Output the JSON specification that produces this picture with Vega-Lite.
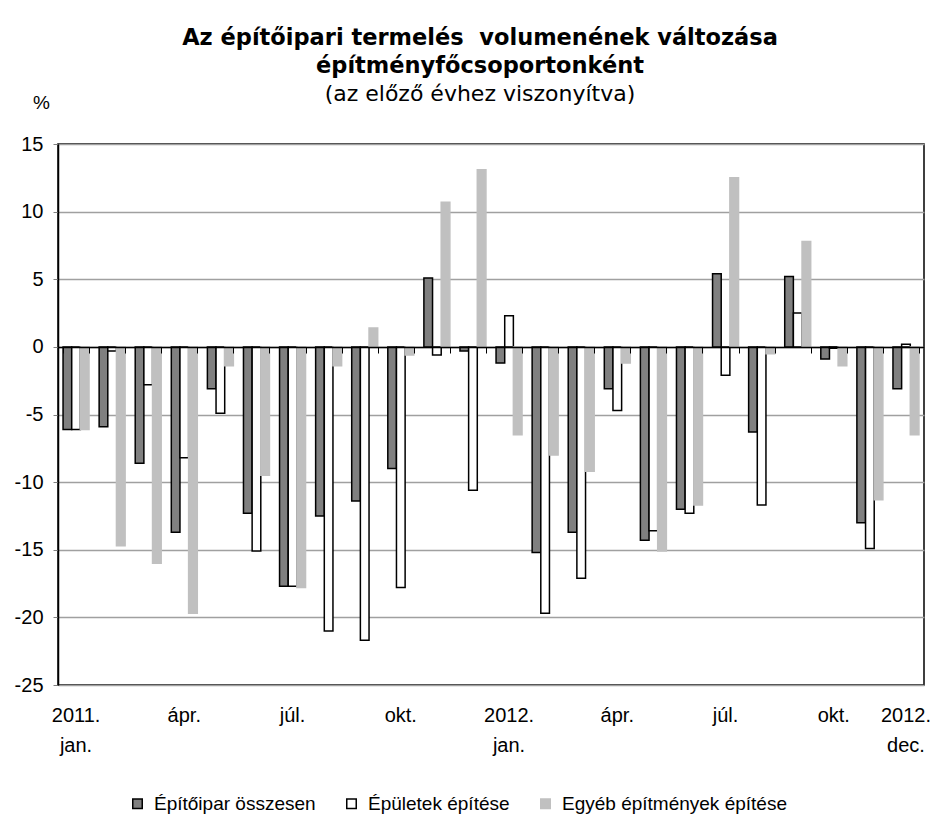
{
  "$schema": "https://vega.github.io/schema/vega-lite/v6.json",
  "width": 866,
  "height": 541,
  "autosize": "none",
  "padding": {"left": 58, "top": 144, "right": 10, "bottom": 136},
  "config": {
    "font": "Liberation Sans",
    "view": {"stroke": "#000000", "strokeWidth": 1.5},
    "axis": {"labelFont": "Liberation Sans", "titleFont": "Liberation Sans", "labelColor": "#000000", "titleColor": "#000000"},
    "legend": {"labelFont": "Liberation Sans"}
  },
  "title": {
    "text": ["Az építőipari termelés\u00a0 volumenének változása", "építményfőcsoportonként"],
    "subtitle": "(az előző évhez viszonyítva)",
    "font": "DejaVu Sans",
    "fontSize": 22.5,
    "fontWeight": "bold",
    "color": "#000000",
    "lineHeight": 28,
    "subtitleFont": "DejaVu Sans",
    "subtitleFontSize": 22,
    "subtitleColor": "#000000",
    "subtitlePadding": 7,
    "anchor": "middle",
    "dx": -11,
    "offset": -12
  },
  "data": {
    "values": [
      {"m": "2011-01", "s": "Építőipar összesen", "v": -6.1}, {"m": "2011-01", "s": "Épületek építése", "v": -6.1}, {"m": "2011-01", "s": "Egyéb építmények építése", "v": -6.1},
      {"m": "2011-02", "s": "Építőipar összesen", "v": -5.9}, {"m": "2011-02", "s": "Épületek építése", "v": -0.3}, {"m": "2011-02", "s": "Egyéb építmények építése", "v": -14.7},
      {"m": "2011-03", "s": "Építőipar összesen", "v": -8.6}, {"m": "2011-03", "s": "Épületek építése", "v": -2.8}, {"m": "2011-03", "s": "Egyéb építmények építése", "v": -16.0},
      {"m": "2011-04", "s": "Építőipar összesen", "v": -13.7}, {"m": "2011-04", "s": "Épületek építése", "v": -8.2}, {"m": "2011-04", "s": "Egyéb építmények építése", "v": -19.7},
      {"m": "2011-05", "s": "Építőipar összesen", "v": -3.1}, {"m": "2011-05", "s": "Épületek építése", "v": -4.9}, {"m": "2011-05", "s": "Egyéb építmények építése", "v": -1.4},
      {"m": "2011-06", "s": "Építőipar összesen", "v": -12.3}, {"m": "2011-06", "s": "Épületek építése", "v": -15.1}, {"m": "2011-06", "s": "Egyéb építmények építése", "v": -9.5},
      {"m": "2011-07", "s": "Építőipar összesen", "v": -17.7}, {"m": "2011-07", "s": "Épületek építése", "v": -17.7}, {"m": "2011-07", "s": "Egyéb építmények építése", "v": -17.8},
      {"m": "2011-08", "s": "Építőipar összesen", "v": -12.5}, {"m": "2011-08", "s": "Épületek építése", "v": -21.0}, {"m": "2011-08", "s": "Egyéb építmények építése", "v": -1.4},
      {"m": "2011-09", "s": "Építőipar összesen", "v": -11.4}, {"m": "2011-09", "s": "Épületek építése", "v": -21.7}, {"m": "2011-09", "s": "Egyéb építmények építése", "v": 1.4},
      {"m": "2011-10", "s": "Építőipar összesen", "v": -9.0}, {"m": "2011-10", "s": "Épületek építése", "v": -17.8}, {"m": "2011-10", "s": "Egyéb építmények építése", "v": -0.6},
      {"m": "2011-11", "s": "Építőipar összesen", "v": 5.1}, {"m": "2011-11", "s": "Épületek építése", "v": -0.6}, {"m": "2011-11", "s": "Egyéb építmények építése", "v": 10.7},
      {"m": "2011-12", "s": "Építőipar összesen", "v": -0.3}, {"m": "2011-12", "s": "Épületek építése", "v": -10.6}, {"m": "2011-12", "s": "Egyéb építmények építése", "v": 13.1},
      {"m": "2012-01", "s": "Építőipar összesen", "v": -1.2}, {"m": "2012-01", "s": "Épületek építése", "v": 2.3}, {"m": "2012-01", "s": "Egyéb építmények építése", "v": -6.5},
      {"m": "2012-02", "s": "Építőipar összesen", "v": -15.2}, {"m": "2012-02", "s": "Épületek építése", "v": -19.7}, {"m": "2012-02", "s": "Egyéb építmények építése", "v": -8.0},
      {"m": "2012-03", "s": "Építőipar összesen", "v": -13.7}, {"m": "2012-03", "s": "Épületek építése", "v": -17.1}, {"m": "2012-03", "s": "Egyéb építmények építése", "v": -9.2},
      {"m": "2012-04", "s": "Építőipar összesen", "v": -3.1}, {"m": "2012-04", "s": "Épületek építése", "v": -4.7}, {"m": "2012-04", "s": "Egyéb építmények építése", "v": -1.2},
      {"m": "2012-05", "s": "Építőipar összesen", "v": -14.3}, {"m": "2012-05", "s": "Épületek építése", "v": -13.6}, {"m": "2012-05", "s": "Egyéb építmények építése", "v": -15.1},
      {"m": "2012-06", "s": "Építőipar összesen", "v": -12.0}, {"m": "2012-06", "s": "Épületek építése", "v": -12.3}, {"m": "2012-06", "s": "Egyéb építmények építése", "v": -11.7},
      {"m": "2012-07", "s": "Építőipar összesen", "v": 5.4}, {"m": "2012-07", "s": "Épületek építése", "v": -2.1}, {"m": "2012-07", "s": "Egyéb építmények építése", "v": 12.5},
      {"m": "2012-08", "s": "Építőipar összesen", "v": -6.3}, {"m": "2012-08", "s": "Épületek építése", "v": -11.7}, {"m": "2012-08", "s": "Egyéb építmények építése", "v": -0.5},
      {"m": "2012-09", "s": "Építőipar összesen", "v": 5.2}, {"m": "2012-09", "s": "Épületek építése", "v": 2.5}, {"m": "2012-09", "s": "Egyéb építmények építése", "v": 7.8},
      {"m": "2012-10", "s": "Építőipar összesen", "v": -0.9}, {"m": "2012-10", "s": "Épületek építése", "v": -0.1}, {"m": "2012-10", "s": "Egyéb építmények építése", "v": -1.4},
      {"m": "2012-11", "s": "Építőipar összesen", "v": -13.0}, {"m": "2012-11", "s": "Épületek építése", "v": -14.9}, {"m": "2012-11", "s": "Egyéb építmények építése", "v": -11.3},
      {"m": "2012-12", "s": "Építőipar összesen", "v": -3.1}, {"m": "2012-12", "s": "Épületek építése", "v": 0.2}, {"m": "2012-12", "s": "Egyéb építmények építése", "v": -6.5}
    ]
  },
  "layer": [
    {
      "mark": {"type": "bar", "strokeWidth": 1.5},
      "encoding": {
        "x": {
          "field": "m", "type": "nominal", "sort": null,
          "scale": {"paddingInner": 0.28, "paddingOuter": 0.14},
          "axis": {
            "title": null, "orient": "bottom", "ticks": false, "domain": false, "labelAngle": 0,
            "labelFontSize": 20, "labelPadding": 20, "labelLineHeight": 30, "labelBaseline": "top",
            "labelOverlap": false, "labelBound": false,
            "labelExpr": "datum.value=='2011-01'?['2011.','jan.']:datum.value=='2011-04'?'ápr.':datum.value=='2011-07'?'júl.':datum.value=='2011-10'?'okt.':datum.value=='2012-01'?['2012.','jan.']:datum.value=='2012-04'?'ápr.':datum.value=='2012-07'?'júl.':datum.value=='2012-10'?'okt.':datum.value=='2012-12'?['2012.','dec.']:''"
          }
        },
        "xOffset": {
          "field": "s", "type": "nominal",
          "sort": ["Építőipar összesen", "Épületek építése", "Egyéb építmények építése"],
          "scale": {"paddingInner": 0, "paddingOuter": 0}
        },
        "y": {
          "field": "v", "type": "quantitative",
          "scale": {"domain": [-25, 15], "nice": false, "zero": false},
          "axis": {
            "title": "%", "titleAngle": 0, "titleFontSize": 19, "titleFontWeight": "normal",
            "titleAlign": "center", "titleBaseline": "alphabetic", "titleX": -17, "titleY": -36,
            "values": [-25, -20, -15, -10, -5, 0, 5, 10, 15],
            "labelExpr": "replace(datum.label, '−', '-')",
            "labelFontSize": 20, "labelPadding": 10, "tickSize": 5, "tickColor": "#808080",
            "domainColor": "#000000", "domainWidth": 1.5,
            "grid": true, "gridColor": "#a0a0a0", "gridWidth": 1.5
          }
        },
        "fill": {
          "field": "s", "type": "nominal",
          "scale": {"domain": ["Építőipar összesen", "Épületek építése", "Egyéb építmények építése"], "range": ["#808080", "#ffffff", "#c0c0c0"]},
          "legend": {
            "title": null, "orient": "none", "legendX": 70, "legendY": 650, "direction": "horizontal", "symbolType": "square",
            "symbolSize": 90, "symbolStrokeWidth": 1.5, "labelFontSize": 19, "labelColor": "#000000", "labelLimit": 500,
            "columnPadding": 26, "labelOffset": 7
          }
        },
        "stroke": {
          "field": "s", "type": "nominal",
          "scale": {"domain": ["Építőipar összesen", "Épületek építése", "Egyéb építmények építése"], "range": ["#000000", "#000000", "#c0c0c0"]},
          "legend": {
            "title": null, "orient": "none", "legendX": 70, "legendY": 650, "direction": "horizontal", "symbolType": "square",
            "symbolSize": 90, "symbolStrokeWidth": 1.5, "labelFontSize": 19, "labelColor": "#000000", "labelLimit": 500,
            "columnPadding": 26, "labelOffset": 7
          }
        }
      }
    },
    {
      "mark": {"type": "point", "opacity": 0},
      "encoding": {
        "x": {
          "field": "m", "type": "nominal", "sort": null,
          "axis": {
            "title": null, "orient": "bottom", "offset": -338, "labels": false, "ticks": true,
            "tickBand": "extent", "tickSize": 6, "tickColor": "#000000", "tickWidth": 1,
            "domain": true, "domainColor": "#000000", "domainWidth": 1.5, "zindex": 1
          }
        },
        "y": {"field": "v", "type": "quantitative"}
      }
    }
  ],
  "resolve": {"axis": {"x": "independent"}}
}
